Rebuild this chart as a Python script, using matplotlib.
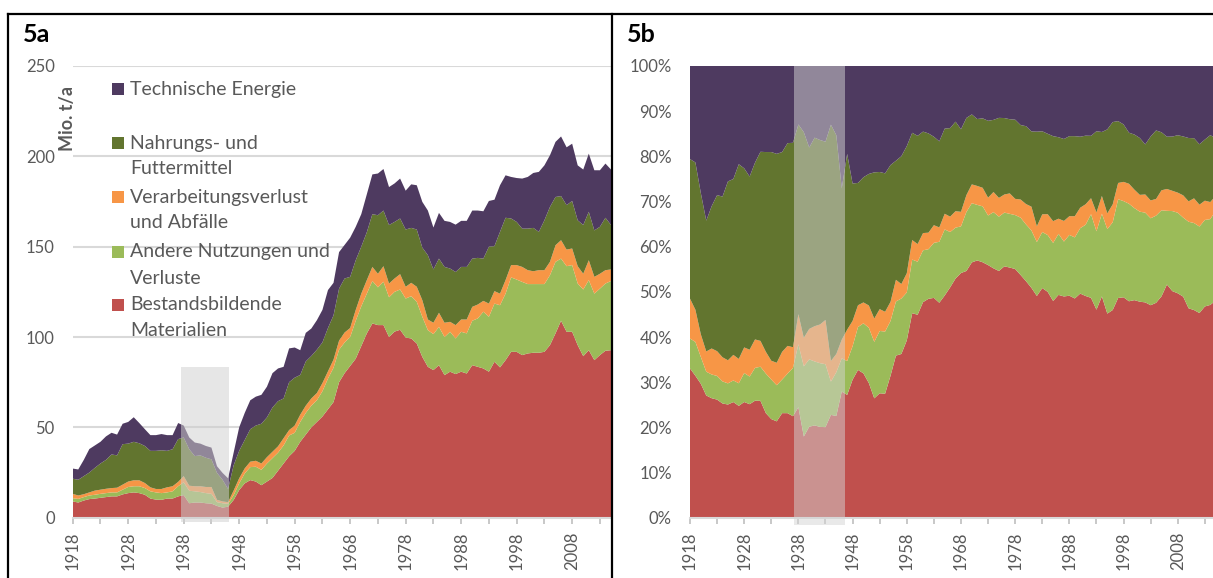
import numpy as np
import matplotlib
matplotlib.use("Agg")
import matplotlib.pyplot as plt
from matplotlib.patches import Rectangle
from matplotlib.lines import Line2D

plt.rcParams['font.family'] = ['Lato', 'DejaVu Sans']

# years shown on the x axis
years = np.arange(1918, 2016)

top_bestand = [9, 8.4, 9.5, 10.3, 10.6, 11, 11.4, 11.8, 11.8, 12.9,
               13.6, 14, 13.6, 12.7, 10.6, 10, 9.9, 10.6, 10.6, 11.8,
               12.5, 8, 8.4, 8.4, 8, 7.8, 6.5, 5.6, 6.1, 9.8,
               15.3, 19, 20.8, 20, 18, 20, 22, 26, 30, 34,
               37, 42, 46, 50, 53, 56, 60, 64, 75, 80,
               84, 88, 95, 102, 107.5, 106.6, 106.6, 100, 103, 104,
               99.7, 99.2, 96.4, 89, 83.5, 81.7, 84.4, 78.9, 80.8, 79.5,
               80.8, 79.8, 84.4, 83.5, 82.6, 80.8, 86.3, 83.2, 87.2, 91.8,
               91.8, 90, 90.9, 91.3, 91.3, 91.8, 95.5, 102, 109, 102.9,
               102.9, 95.5, 89.4, 92.7, 87.2, 90, 92.4, 92.7]
top_andere = [10.8, 10.4, 11.4, 12.3, 12.7, 13.2, 13.6, 14, 14, 15.5,
              17, 17.4, 17.4, 16.4, 14.6, 14, 13.6, 14, 14.6, 17.4,
              19.6, 14.9, 14.6, 14.2, 13.6, 13.2, 8.6, 8, 7.7, 12.5,
              19, 24.5, 28, 28.2, 26.5, 30, 33, 36, 40, 45.5,
              47, 53, 58, 62, 65, 70, 77, 83, 93, 97,
              100, 109, 117, 124, 131, 127.5, 130.6, 122, 125, 126.3,
              121.3, 122.6, 119.5, 111.2, 103.8, 101.6, 105.6, 100, 102.9, 99.2,
              102.9, 102, 109, 110.3, 114, 111.2, 118.5, 117.6, 124, 133,
              131.8, 130.5, 129.3, 129.3, 129.3, 129.3, 134.2, 141.6, 143.4, 139.2,
              139.8, 129.6, 126.3, 131.5, 124, 126.8, 129.6, 131]
top_verarb = [13.2, 12.3, 13, 14, 15, 15.5, 16, 16.4, 16.6, 18.3,
              20, 20.7, 20.7, 19.2, 16.8, 15.9, 15.9, 16.8, 17.4, 19.8,
              23, 17.7, 17.4, 17.4, 17, 17, 9.9, 9, 8.6, 15,
              21.8, 27.3, 31, 31.5, 30, 33.5, 36.5, 39.5, 44, 48.5,
              51, 57, 62, 66, 69, 74.5, 81, 87.5, 98, 102.5,
              105, 115, 124, 131.5, 138.8, 135, 139.2, 129.6, 132.4, 134.8,
              127.8, 130, 127.8, 120.4, 109.7, 107.9, 113.4, 107.9, 108.4, 106.6,
              109.7, 109.7, 116.7, 118, 120, 118.5, 125.4, 124, 131.5, 139.8,
              139.8, 138.8, 137, 136.4, 137, 137, 141.6, 150.8, 153.6, 148.4,
              149, 139.2, 135, 142.5, 133.3, 135, 137, 137.4]
top_nahrung = [21.6, 21, 23, 25, 27.6, 30, 32, 35, 34.5, 40.7,
               41, 42, 41.2, 39.7, 37, 37, 37.3, 37, 37.9, 43.5,
               44.4, 37.9, 34.1, 34.5, 33.2, 32.3, 24.8, 21, 15.9, 29,
               37, 43, 49, 51, 52, 55.5, 61, 64.5, 66, 75,
               77.5, 79, 86.5, 89.5, 93, 97, 105, 112, 126.8, 132.4,
               133.3, 142.5, 150, 158, 168, 167.4, 170, 162, 163.7, 165.6,
               159.5, 160.4, 159.5, 149.5, 145.3, 137.4, 143.4, 138.8, 137.9, 136,
               138.8, 138.8, 143.4, 143.8, 143.4, 150, 150.3, 158.2, 166, 165.6,
               163.7, 160, 160, 160.4, 158.2, 164.6, 172, 177.5, 178, 173,
               175.3, 164.6, 162, 169.3, 159, 161, 166, 162]
top_energie = [27.2, 26.7, 32, 38, 40, 42, 45, 47, 46, 52,
               53, 55.6, 52.4, 49, 45.7, 45.7, 46.3, 45.7, 45.7, 52.4,
               51, 44.4, 41.6, 41, 39.7, 38.8, 28.5, 24.8, 21.8, 36,
               50, 58, 65, 67, 68, 72.5, 80, 82.6, 83.5, 93.7,
               94.2, 92.7, 102.3, 104.7, 109.3, 115, 126, 130, 147, 151,
               155, 161, 168, 179, 190, 190.5, 193, 183, 185, 187.7,
               181, 184.5, 184, 174.8, 170, 160.6, 168.7, 164.3, 163.7, 162.2,
               164.3, 164.3, 170, 170, 169.6, 175.3, 176, 184, 189.5, 188.6,
               188, 187.7, 188.6, 190.8, 191.4, 195, 200.6, 208, 211, 205,
               207, 195, 192.7, 201.5, 192.3, 192.3, 196, 192.7]

labels = ["Bestandsbildende\nMaterialien", "Andere Nutzungen und\nVerluste",
          "Verarbeitungsverlust\nund Abfälle", "Nahrungs- und\nFuttermittel",
          "Technische Energie"]
colors = ["#c0504d", "#9bbb59", "#f79646", "#62752f", "#4e3a60"]

# thickness of each layer
tops = np.array([top_bestand, top_andere, top_verarb, top_nahrung, top_energie])
layers = np.diff(np.vstack([np.zeros(len(years)), tops]), axis=0)
shares = layers / tops[-1] * 100

W, H = 1213, 578
fig = plt.figure(figsize=(W / 100, H / 100), dpi=100)

tick_col = "#595959"
grid_col = "#d9d9d9"


def px_axes(x0, x1, y0, y1):
    return fig.add_axes([x0 / W, 1 - y1 / H, (x1 - x0) / W, (y1 - y0) / H])


def style(ax):
    for s in ["top", "right", "left"]:
        ax.spines[s].set_visible(False)
    ax.spines["bottom"].set_color(grid_col)
    ax.spines["bottom"].set_linewidth(1.5)
    ax.set_xlim(1918, 2015)
    ax.set_xticks(range(1918, 2016, 5))
    ax.set_xticklabels([str(y) if (y - 1918) % 10 == 0 else "" for y in range(1918, 2016, 5)],
                       rotation=90)
    ax.tick_params(axis="x", length=4, width=1.2, color="#bfbfbf", pad=6,
                   labelsize=12, labelcolor=tick_col)
    ax.tick_params(axis="y", length=0, pad=13, labelsize=12, labelcolor=tick_col)


# panel 5a
ax1 = px_axes(72.7, 611, 66, 517.7)
ax1.stackplot(years, layers, colors=colors, linewidth=0, zorder=2)
ax1.set_ylim(0, 250)
ax1.set_yticks(range(0, 251, 50))
ax1.yaxis.grid(True, color=grid_col, linewidth=1.5, zorder=0)
ax1.set_axisbelow(True)
style(ax1)
ax1.add_patch(Rectangle((1937.6, -2.2), 8.6, 85.7, facecolor="#cfcfcf", alpha=0.52,
                        edgecolor="none", zorder=3, clip_on=False))

# panel 5b
ax2 = px_axes(690, 1215.7, 66, 518)
ax2.stackplot(years, shares, colors=colors, linewidth=0, zorder=2)
ax2.set_ylim(0, 100)
ax2.set_yticks(range(0, 101, 10))
ax2.set_yticklabels([f"{v}%" for v in range(0, 101, 10)])
style(ax2)
ax2.add_patch(Rectangle((1937.2, -1.5), 9.4, 101.5, facecolor="#d4d4d4", alpha=0.5,
                        edgecolor="none", zorder=3, clip_on=False))

# panel letters and axis title
fig.text(23 / W, 1 - 34 / H, "5a", fontsize=18, fontweight="bold", va="center", ha="left")
fig.text(627 / W, 1 - 34 / H, "5b", fontsize=18, fontweight="bold", va="center", ha="left")
fig.text(68 / W, 1 - 119 / H, "Mio. t/a", rotation=90, fontsize=13, fontweight="bold",
         color=tick_col, va="center", ha="center")

# legend drawn by hand, top entry first
legend_rows = [89, 143, 197, 252, 305]
for row, lab, col in zip(legend_rows, labels[::-1], colors[::-1]):
    fig.patches.append(Rectangle((112 / W, 1 - (row + 6) / H), 12 / W, 12 / H,
                                 facecolor=col, edgecolor="none", transform=fig.transFigure))
    for i, line in enumerate(lab.split("\n")):
        fig.text(130 / W, 1 - (row + 26 * i) / H, line, fontsize=14, color=tick_col,
                 va="center", ha="left")

# black frames round the panels
for (xa, ya), (xb, yb) in [((8, 14), (1213, 14)), ((8, 14), (8, 578)), ((612, 14), (612, 578))]:
    fig.add_artist(Line2D([xa / W, xb / W], [1 - ya / H, 1 - yb / H], color="black",
                          linewidth=1.6, transform=fig.transFigure))

fig.savefig("out.png", dpi=100)
